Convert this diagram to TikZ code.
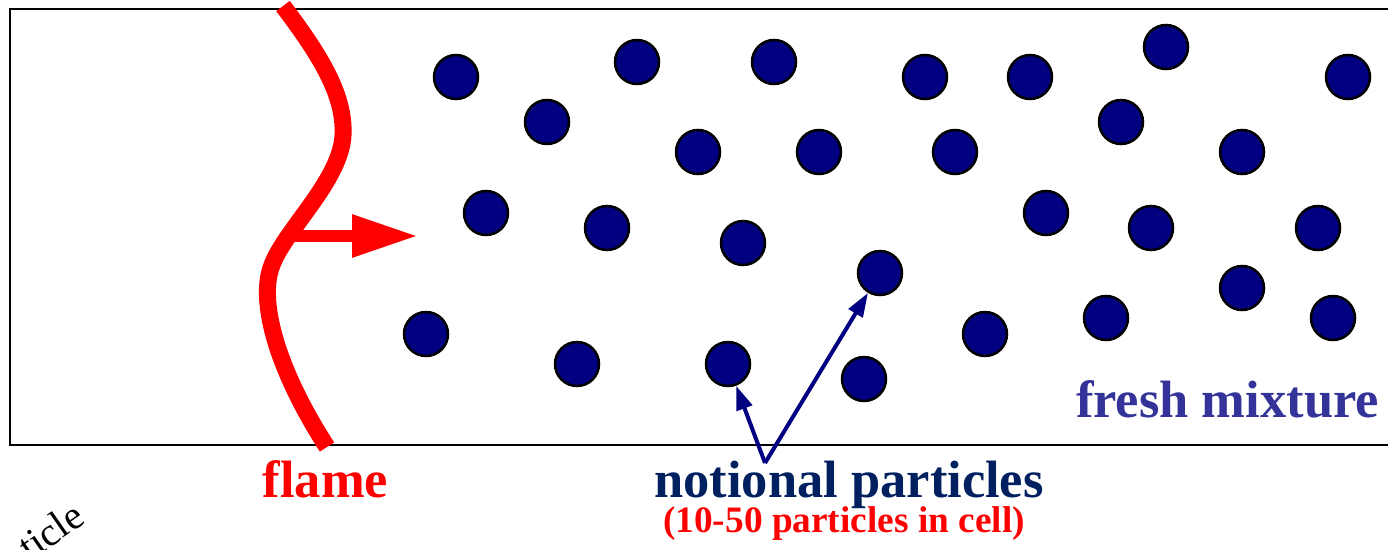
\documentclass[tikz,border=0pt]{standalone}
\usepackage{fontspec}
\setmainfont{Liberation Serif}
\usetikzlibrary{arrows.meta}
\definecolor{partfill}{RGB}{0,0,128}
\definecolor{notecol}{RGB}{0,32,96}
\definecolor{freshcol}{RGB}{51,51,153}
\definecolor{flamered}{RGB}{255,0,0}
\tikzset{
  particle/.style={circle, draw=black, line width=2.5pt, fill=partfill, minimum size=44pt, inner sep=0pt},
  bigtext/.style={font=\fontsize{52.5}{60}\selectfont\bfseries, inner sep=0pt, anchor=base},
  smalltext/.style={font=\fontsize{37.3}{42}\selectfont\bfseries, inner sep=0pt, anchor=base},
  pointer/.style={draw=partfill, line width=4pt, -{Triangle[length=24pt,width=16pt]}},
  flameline/.style={draw=flamered, line width=17pt},
  flamearrow/.style={draw=flamered, line width=12pt, -{Triangle[length=66pt,width=40pt]}}
}
\begin{document}
\begin{tikzpicture}[x=1pt,y=-1pt]
\useasboundingbox (0,0) rectangle (1388,549);
% box (right side runs beyond the picture)
\draw[line width=2.5pt] (1400,9) -- (10,9) -- (10,445) -- (1400,445);
% flame
\draw[flameline] (283,6) .. controls (320,55) and (345,95) .. (343,135)
  .. controls (341,180) and (285,230) .. (272,265)
  .. controls (258,300) and (276,368) .. (327,447);
\coordinate (fs) at (290,236);
\coordinate (ft) at (418,236);
\draw[flamearrow] (fs) -- (ft);
% particles
\foreach \n/\x/\y in {
 a/456/77, b/637/62, c/774/62, d/925/77, e/1030/77, f/1166/47, g/1348/77,
 h/547/122, i/698/152, j/819/152, k/955/152, l/1121/122, m/1242/152,
 n/486/213, o/607/228, p/743/243, q/1046/213, r/1151/228, s/1318/228,
 t/880/273, u/1242/288,
 v/426/334, w/577/364, x/728/364, y/864/379, z/985/334, aa/1106/318, ab/1333/318}
  \node[particle] (p\n) at (\x,\y) {};
% labels
\node[bigtext, text=flamered] (flame) at (325.5,497) {flame};
\node[bigtext, text=notecol] (notional) at (849,497) {notional particles};
\node[smalltext, text=flamered] (count) at (844,532) {(10-50 particles in cell)};
\node[bigtext, text=freshcol] (fresh) at (1227.5,417) {fresh mixture};
\node[font=\fontsize{40}{46}\selectfont, inner sep=0pt, anchor=base west, rotate=35] (cut) at (30,562) {ticle};
% pointers
\coordinate (apex) at (765,463);
\draw[pointer] (apex) -- (px);
\draw[pointer] (apex) -- (pt);
\end{tikzpicture}
\end{document}
